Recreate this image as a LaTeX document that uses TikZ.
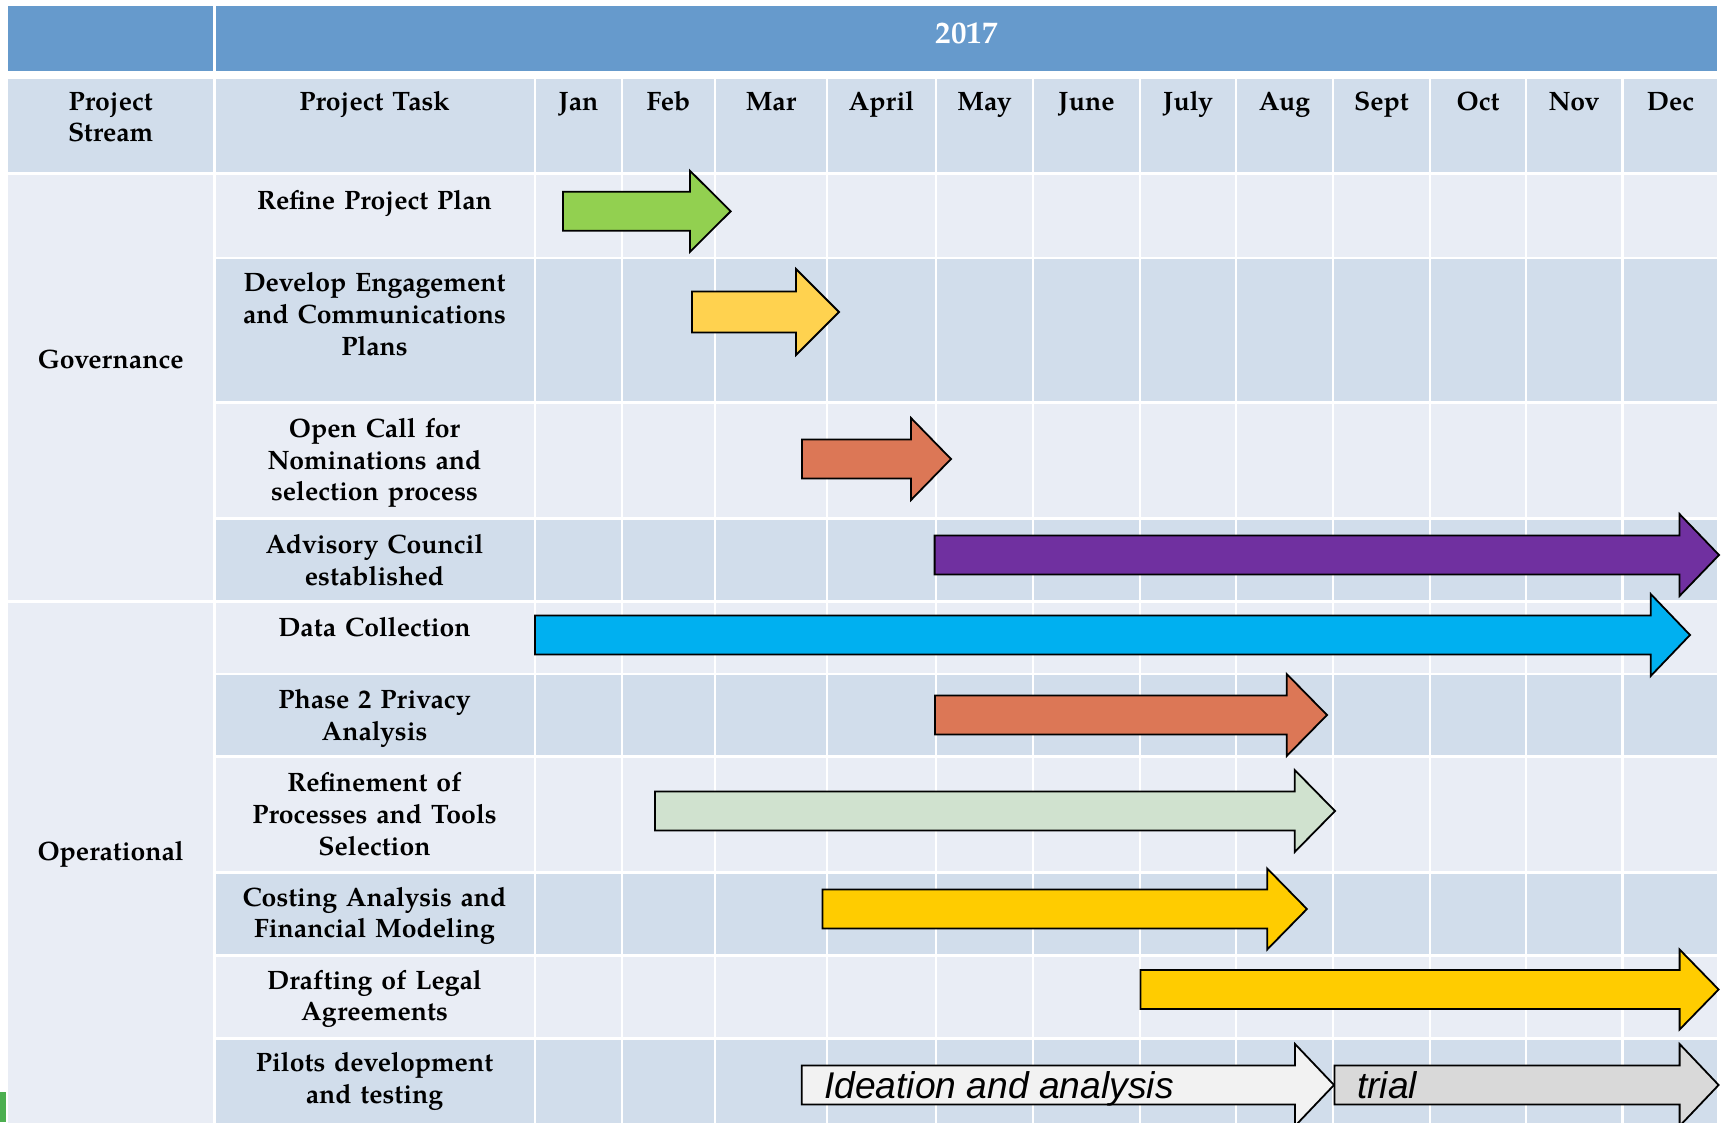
\documentclass[tikz,border=0pt]{standalone}
\usepackage{fontspec}
\setmainfont{texgyrepagella}[Extension=.otf, UprightFont=*-regular, BoldFont=*-bold, ItalicFont=*-italic, BoldItalicFont=*-bolditalic]
\newfontfamily\arialfont{Liberation Sans}
\definecolor{band}{HTML}{669ACC}
\definecolor{celldark}{HTML}{D1DDEB}
\definecolor{celllight}{HTML}{E9EDF5}
\definecolor{cgreen}{HTML}{92D050}
\definecolor{cyellow}{HTML}{FFD24F}
\definecolor{corange}{HTML}{DC7756}
\definecolor{cpurple}{HTML}{7030A0}
\definecolor{cblue}{HTML}{00B0F0}
\definecolor{cpale}{HTML}{D0E2CF}
\definecolor{cgold}{HTML}{FFCC00}
\definecolor{cideation}{HTML}{F2F2F2}
\definecolor{ctrial}{HTML}{D9D9D9}
\definecolor{cmark}{HTML}{4CAF50}
\newcommand\ganttarrow[7]{%
  \filldraw[arrowline, fill=#7] (#1,#2-#3) -- (#4,#2-#3) -- (#4,#2-#5) -- (#6,#2) -- (#4,#2+#5) -- (#4,#2+#3) -- (#1,#2+#3) -- cycle;}
\begin{document}
\begin{tikzpicture}[x=1pt,y=-1pt,
  arrowline/.style={draw=black, line width=1.8pt, line join=miter},
  hdr/.style={font=\bfseries\fontsize{26.6}{31.7}\selectfont, anchor=base, align=center, inner sep=0pt, text width=300pt},
  monthlbl/.style={font=\bfseries\fontsize{26.6}{31.7}\selectfont, anchor=base, inner sep=0pt},
  bartext/.style={font=\arialfont\itshape\fontsize{37.2}{40}\selectfont, anchor=base west, inner sep=0pt}]
\useasboundingbox (0,0) rectangle (1723,1122);
\clip (0,0) rectangle (1723,1122);
\fill[white] (0,0) rectangle (1723,1122);
% top band
\fill[band] (8.3,6) rectangle (213.2,71);
\fill[band] (215.8,6) rectangle (1717.3,71);
% stream column
\fill[celldark] (8.3,79) rectangle (213.2,172.2);
\fill[celllight] (8.3,174.8) rectangle (213.2,600.2);
\fill[celllight] (8.3,602.8) rectangle (213.2,1130);
% task + month cells
\foreach \ya/\yb/\c in {77.7/173.5/celldark, 173.5/258/celllight, 258/402.5/celldark, 402.5/518.5/celllight, 518.5/601.5/celldark, 601.5/674/celllight, 674/756.5/celldark, 756.5/872.5/celllight, 872.5/955.5/celldark, 955.5/1038.5/celllight, 1038.5/1130/celldark}{
  \foreach \xa/\xb in {214.5/535, 535/622, 622/715, 715/827, 827/936, 936/1033, 1033/1140, 1140/1236, 1236/1333, 1333/1430, 1430/1526, 1526/1622.5, 1622.5/1718.6}{
    \fill[\c] (\xa+1.3,\ya+1.3) rectangle (\xb-1.3,\yb-1.3);
  }
}
% year
\node[font=\bfseries\fontsize{31}{34}\selectfont, text=white, anchor=base, inner sep=0pt] (year) at (966.5,43.5) {2017};
% header texts
\node[hdr, text width=200pt] (hstream) at (110.7,110) {Project\\Stream};
\node[hdr] (htask) at (374.5,110) {Project Task};
\foreach \m/\cx in {Jan/578.5, Feb/668.5, Mar/771, April/881.5, May/984.5, June/1086.5, July/1188, Aug/1284.5, Sept/1381.5, Oct/1478, Nov/1574, Dec/1670.5}{
  \node[monthlbl] (m\m) at (\cx,110) {\m};
}
% streams
\node[monthlbl] (gov) at (110.7,368) {Governance};
\node[monthlbl] (ops) at (110.7,860.7) {Operational};
% tasks
\node[hdr] (t1) at (374.5,209.3) {Refine Project Plan};
\node[hdr] (t2) at (374.5,291.7) {Develop Engagement\\and Communications\\Plans};
\node[hdr] (t3) at (374.5,437.3) {Open Call for\\Nominations and\\selection process};
\node[hdr] (t4) at (374.5,553.3) {Advisory Council\\established};
\node[hdr] (t5) at (374.5,636.7) {Data Collection};
\node[hdr] (t6) at (374.5,708.3) {Phase 2 Privacy\\Analysis};
\node[hdr] (t7) at (374.5,791.7) {Refinement of\\Processes and Tools\\Selection};
\node[hdr] (t8) at (374.5,906) {Costing Analysis and\\Financial Modeling};
\node[hdr] (t9) at (374.5,989) {Drafting of Legal\\Agreements};
\node[hdr] (t10) at (374.5,1071.7) {Pilots development\\and testing};
% arrows
\ganttarrow{563}{211.3}{19.5}{690}{40.5}{730.7}{cgreen}
\ganttarrow{692}{312}{20.5}{796}{43}{839}{cyellow}
\ganttarrow{802}{459}{19.5}{911}{41}{951}{corange}
\ganttarrow{934.6}{555}{19.5}{1679.5}{41}{1719}{cpurple}
\ganttarrow{535}{635}{19.5}{1650.7}{41}{1690}{cblue}
\ganttarrow{935}{715}{19.5}{1286.7}{41}{1327}{corange}
\ganttarrow{655}{811}{19.5}{1294.7}{41}{1335}{cpale}
\ganttarrow{822.4}{909}{19.5}{1267.2}{40.5}{1306.9}{cgold}
\ganttarrow{1140.5}{989.5}{19.5}{1679.6}{40}{1718.6}{cgold}
\ganttarrow{801.8}{1085}{19.5}{1295}{41}{1334}{cideation}
\ganttarrow{1334.4}{1085}{19.5}{1679.6}{41}{1718.6}{ctrial}
\node[bartext] (ideation) at (824,1098.3) {Ideation and analysis};
\node[bartext] (trial) at (1357,1098.3) {trial};
% small mark at lower left
\fill[cmark] (0,1091.5) rectangle (6,1122);
\end{tikzpicture}
\end{document}
